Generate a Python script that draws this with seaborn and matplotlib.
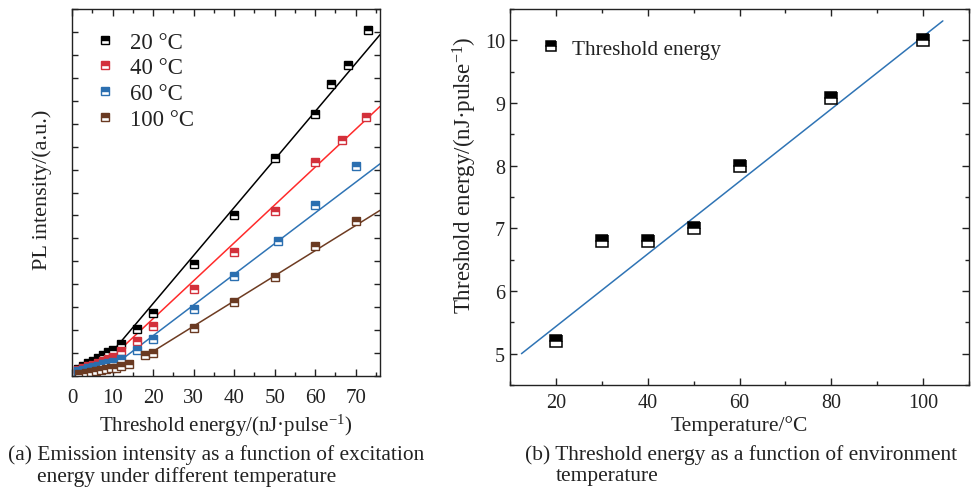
import numpy as np
import pandas as pd
import matplotlib
matplotlib.use("Agg")
import matplotlib.pyplot as plt
from matplotlib.lines import Line2D
from matplotlib.ticker import MultipleLocator
import seaborn as sns

# ---------------- data ----------------
series_labels = ["20 °C", "40 °C", "60 °C", "100 °C"]

x_20 = [1.5, 2.8, 4.0, 5.2, 6.4, 7.6, 8.8, 10.0, 12.0, 16.0, 20.0, 30.0, 40.0, 50.0, 60.0, 64.0, 68.0, 73.0]
y_20 = [0.30, 0.42, 0.55, 0.66, 0.78, 0.92, 1.05, 1.12, 1.38, 2.04, 2.74, 4.88, 7.02, 9.51, 11.43, 12.71, 13.57, 15.07]

x_40 = [1.5, 2.8, 4.0, 5.2, 6.4, 7.6, 8.8, 10.0, 12.0, 16.0, 20.0, 30.0, 40.0, 50.2, 60.0, 66.5, 72.6]
y_40 = [0.25, 0.33, 0.42, 0.50, 0.58, 0.66, 0.75, 0.85, 1.09, 1.53, 2.18, 3.79, 5.39, 7.18, 9.32, 10.29, 11.28]

x_60 = [1.5, 2.8, 4.0, 5.2, 6.4, 7.6, 8.8, 10.0, 12.0, 16.0, 20.0, 30.0, 40.0, 50.8, 60.0, 70.0]
y_60 = [0.20, 0.27, 0.33, 0.39, 0.45, 0.51, 0.57, 0.63, 0.72, 1.12, 1.60, 2.91, 4.34, 5.87, 7.47, 9.17]

x_100 = [1.8, 3.4, 4.6, 5.9, 7.1, 8.3, 9.6, 10.8, 12.0, 14.1, 18.0, 20.0, 30.0, 40.0, 50.0, 60.0, 70.0]
y_100 = [0.07, 0.12, 0.17, 0.22, 0.25, 0.29, 0.34, 0.37, 0.44, 0.54, 0.90, 1.02, 2.11, 3.23, 4.32, 5.65, 6.74]

# linear-fit segments (start / end) for each temperature
fit_x0 = [8.5, 7.0, 11.0, 17.5]
fit_y0 = [0.75, 0.35, 0.55, 0.80]
fit_x1 = [76.0, 76.0, 76.0, 76.0]
fit_y1 = [14.88, 11.75, 9.25, 7.22]

# panel (b)
temperature = [20, 30, 40, 50, 60, 80, 100]
threshold = [5.2, 6.8, 6.8, 7.0, 8.0, 9.08, 10.0]
fitb_x = [12.5, 104.3]
fitb_y = [5.0, 10.31]

marker_colors = ["#000000", "#d3303b", "#2b6fb0", "#6a3a22"]
line_colors = ["#000000", "#ff2b2b", "#2f74b5", "#6e3c22"]

# ---------------- style ----------------
sns.set_style("ticks")
plt.rcParams["font.family"] = ["Liberation Serif", "DejaVu Serif"]
plt.rcParams["mathtext.fontset"] = "custom"
plt.rcParams["mathtext.rm"] = "Liberation Serif"
plt.rcParams["mathtext.it"] = "Liberation Serif:italic"
plt.rcParams["axes.linewidth"] = 1.0
plt.rcParams["axes.edgecolor"] = "#222222"

TXT = "#222222"
fig = plt.figure(figsize=(9.72, 4.89), dpi=100)
axA = fig.add_axes([72 / 972, 1 - 377 / 489, 308 / 972, 367 / 489])
axB = fig.add_axes([510 / 972, 1 - 386 / 489, 459 / 972, 376 / 489])


def style_axes(ax, fs):
    ax.tick_params(which="both", direction="in", top=True, right=True,
                   colors=TXT, labelcolor=TXT)
    ax.tick_params(which="major", length=5, width=1.0, labelsize=fs)
    ax.tick_params(which="minor", length=3, width=1.0)
    for s in ax.spines.values():
        s.set_visible(True)
        s.set_linewidth(1.0)


# ---------------- panel (a) ----------------
xs = [x_20, x_40, x_60, x_100]
ys = [y_20, y_40, y_60, y_100]
handles = []
for i in range(4):
    sns.lineplot(x=[fit_x0[i], fit_x1[i]], y=[fit_y0[i], fit_y1[i]], ax=axA,
                 color=line_colors[i], lw=1.1, estimator=None, sort=False)
for i in range(4):
    sns.lineplot(x=xs[i], y=ys[i], ax=axA, estimator=None, sort=False,
                 color=marker_colors[i], linestyle="", marker="s", markersize=6.2,
                 fillstyle="top", markerfacecolor=marker_colors[i],
                 markerfacecoloralt="white", markeredgecolor=marker_colors[i],
                 markeredgewidth=1.0)
    handles.append(Line2D([], [], linestyle="", marker="s", markersize=5.5,
                          fillstyle="top", color=marker_colors[i],
                          markerfacecolor=marker_colors[i],
                          markerfacecoloralt="white",
                          markeredgecolor=marker_colors[i], markeredgewidth=1.0))

axA.set_xlim(0, 76)
axA.set_ylim(0, 16)
axA.xaxis.set_major_locator(MultipleLocator(10))
axA.xaxis.set_minor_locator(MultipleLocator(5))
axA.yaxis.set_major_locator(MultipleLocator(1))
axA.set_yticklabels([])
style_axes(axA, 15)
axA.tick_params(axis="y", which="major", length=4.5)
axA.tick_params(axis="x", pad=8.5)
axA.set_xlabel("Threshold energy/(nJ·pulse$^{\\mathregular{-1}}$)", fontsize=15, color=TXT)
axA.xaxis.set_label_coords(0.5, -0.098)
axA.set_ylabel("PL intensity/(a.u.)", fontsize=16, color=TXT)
axA.yaxis.set_label_coords(-0.065, 0.51)
axA.legend(handles, series_labels, loc="upper left", frameon=False,
           fontsize=16.5, handlelength=1.0, handletextpad=0.59,
           labelspacing=0.2, borderaxespad=0.3,
           bbox_to_anchor=(0.018, 0.982), labelcolor=TXT)

# ---------------- panel (b) ----------------
sns.lineplot(x=fitb_x, y=fitb_y, ax=axB, color="#2f74b5", lw=1.1,
             estimator=None, sort=False)
sns.lineplot(x=temperature, y=threshold, ax=axB, estimator=None, sort=False,
             color="black", linestyle="", marker="s", markersize=8.5,
             fillstyle="top", markerfacecolor="black", markerfacecoloralt="white",
             markeredgecolor="black", markeredgewidth=1.1)
hB = Line2D([], [], linestyle="", marker="s", markersize=7.5, fillstyle="top",
            color="black", markerfacecolor="black", markerfacecoloralt="white",
            markeredgecolor="black", markeredgewidth=1.1)
axB.legend([hB], ["Threshold energy"], loc="upper left", frameon=False,
           fontsize=15.3, handlelength=1.0, handletextpad=0.49,
           bbox_to_anchor=(0.025, 0.972), labelcolor=TXT)
axB.set_xlim(10, 110)
axB.set_ylim(4.5, 10.5)
axB.xaxis.set_major_locator(MultipleLocator(20))
axB.xaxis.set_minor_locator(MultipleLocator(10))
axB.yaxis.set_major_locator(MultipleLocator(1))
axB.yaxis.set_minor_locator(MultipleLocator(0.5))
style_axes(axB, 14.5)
axB.tick_params(axis="x", pad=5.5)
axB.tick_params(axis="y", pad=3.5)
axB.set_xlabel("Temperature/°C", fontsize=15.5, color=TXT)
axB.xaxis.set_label_coords(0.5, -0.081)
axB.set_ylabel("Threshold energy/(nJ·pulse$^{\\mathregular{-1}}$)", fontsize=16.5, color=TXT)
axB.yaxis.set_label_coords(-0.0675, 0.561)

# ---------------- captions ----------------
CF = 15.4
fig.text(8 / 972, 1 - 455 / 489, "(a) Emission intensity as a function of excitation",
         fontsize=CF, va="center", ha="left", color=TXT)
fig.text(37 / 972, 1 - 477 / 489, "energy under different temperature",
         fontsize=CF, va="center", ha="left", color=TXT)
fig.text(525 / 972, 1 - 455 / 489, "(b) Threshold energy as a function of environment",
         fontsize=CF, va="center", ha="left", color=TXT)
fig.text(556 / 972, 1 - 477 / 489, "temperature",
         fontsize=CF, va="center", ha="left", color=TXT)

fig.savefig("out.png", dpi=100)
